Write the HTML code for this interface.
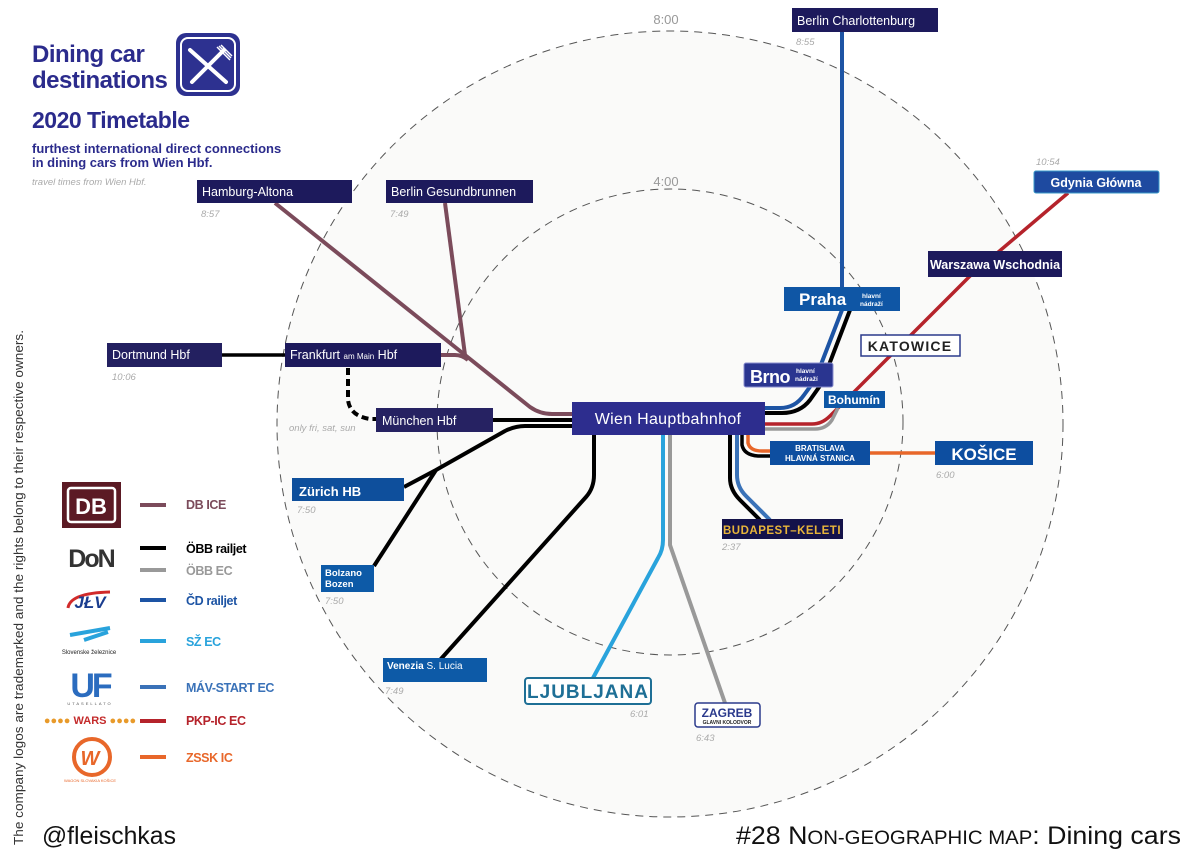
<!DOCTYPE html>
<html><head><meta charset="utf-8"><style>
html,body{margin:0;padding:0;background:#fff;}
svg{display:block;font-family:"Liberation Sans",sans-serif;}
</style></head><body>
<svg width="1200" height="865" viewBox="0 0 1200 865" xmlns="http://www.w3.org/2000/svg">
<rect width="1200" height="865" fill="#fff"/>
<!-- circles -->
<circle cx="670" cy="424" r="393" fill="#fafaf9" stroke="#555" stroke-width="1" stroke-dasharray="8,6"/>
<circle cx="670" cy="422" r="233" fill="none" stroke="#555" stroke-width="1" stroke-dasharray="8,6"/>
<text x="666" y="24" font-size="13" fill="#999" text-anchor="middle">8:00</text>
<text x="666" y="186" font-size="13" fill="#999" text-anchor="middle">4:00</text>

<!-- title -->
<g fill="#2b2b8c" font-weight="bold">
<text x="32" y="62" font-size="24" letter-spacing="-0.5">Dining car</text>
<text x="32" y="88" font-size="24" letter-spacing="-0.5">destinations</text>
<text x="32" y="128" font-size="23" letter-spacing="-0.5">2020 Timetable</text>
<text x="32" y="153" font-size="13">furthest international direct connections</text>
<text x="32" y="167" font-size="13">in dining cars from Wien Hbf.</text>
</g>
<text x="32" y="185" font-size="9.5" font-style="italic" fill="#aaa">travel times from Wien Hbf.</text>
<rect x="176" y="33" width="64" height="63" rx="10" fill="#2d3190"/>
<rect x="181" y="38" width="54" height="53" rx="7" fill="none" stroke="#fff" stroke-width="2"/>
<line x1="190" y1="50" x2="226" y2="82" stroke="#fff" stroke-width="4" stroke-linecap="round"/>
<line x1="224" y1="50" x2="192" y2="82" stroke="#fff" stroke-width="4" stroke-linecap="round"/>
<path d="M217 47 L230 60 M221 45 L232 56 M219 46 L231 58" stroke="#fff" stroke-width="1.5"/>

<!-- lines -->
<g fill="none" stroke-linejoin="round" stroke-linecap="butt">
<path d="M275 203 L465 355 L530 407 Q540 414 552 414 L572 414" stroke="#7b4b5b" stroke-width="4"/>
<path d="M445 203 L465 355" stroke="#7b4b5b" stroke-width="4"/>
<path d="M441 355 L455 355 Q462 355 468 360" stroke="#7b4b5b" stroke-width="4"/>
<path d="M222 355 L285 355" stroke="#000" stroke-width="3.5"/>
<path d="M348 368 L348 400 Q350 416 370 419 L376 419" stroke="#000" stroke-width="4" stroke-dasharray="7,4"/>
<path d="M493 420 L572 420" stroke="#000" stroke-width="4"/>
<path d="M572 426 L525 426 Q515 426 505 431 L436 470 L404 487" stroke="#000" stroke-width="4"/>
<path d="M436 470 L374 566" stroke="#000" stroke-width="4"/>
<path d="M594 435 L594 475 Q594 488 586 497 L440 660" stroke="#000" stroke-width="4"/>
<path d="M663 435 L663 540 Q663 550 658 558 L593 678" stroke="#29a3dc" stroke-width="4"/>
<path d="M670 435 L670 545 L725 703" stroke="#999" stroke-width="4"/>
<path d="M730 435 L730 478 Q730 490 740 500 L760 520" stroke="#000" stroke-width="4"/>
<path d="M737 435 L737 475 Q737 487 746 496 L770 520" stroke="#3a72b8" stroke-width="4"/>
<path d="M742 435 L742 445 Q744 455 758 456 L770 456" stroke="#000" stroke-width="3.5"/>
<path d="M748 435 L748 443 Q750 451 762 451 L770 451" stroke="#e8672a" stroke-width="3.5"/>
<path d="M870 453 L936 453" stroke="#e8672a" stroke-width="3.5"/>
<path d="M765 413 L782 413 Q800 413 810 400 L822 383 L850 310" stroke="#000" stroke-width="4"/>
<path d="M765 408 L780 408 Q795 408 804 395 L815 380 L842 310 L842 32" stroke="#1d54a4" stroke-width="4"/>
<path d="M765 424 L812 424 Q822 424 830 416 L970 276 L1068 193" stroke="#b5232b" stroke-width="3.5"/>
<path d="M765 429 L815 429 Q826 429 832 420 L838 408" stroke="#999" stroke-width="3.5"/>
</g>

<!-- boxes -->
<g font-size="12.5" fill="#fff">
<rect x="792" y="8" width="146" height="24" fill="#1d1a5c"/><text x="797" y="25">Berlin Charlottenburg</text>
<rect x="197" y="180" width="155" height="23" fill="#1d1a5c"/><text x="202" y="196">Hamburg-Altona</text>
<rect x="386" y="180" width="147" height="23" fill="#1d1a5c"/><text x="391" y="196">Berlin Gesundbrunnen</text>
<rect x="107" y="343" width="115" height="24" fill="#232060"/><text x="112" y="359">Dortmund Hbf</text>
<rect x="285" y="343" width="156" height="24" fill="#1d1a5c"/><text x="290" y="359">Frankfurt <tspan font-size="8">am Main</tspan> Hbf</text>
<rect x="376" y="408" width="117" height="24" fill="#262262"/><text x="382" y="425">München Hbf</text>
<rect x="292" y="478" width="112" height="23" fill="#0e4f9c"/><text x="299" y="496" font-weight="bold" font-size="13">Zürich HB</text>
<rect x="321" y="565" width="53" height="27" fill="#0d5aa7"/><text x="325" y="576" font-weight="bold" font-size="9.5">Bolzano</text><text x="325" y="587" font-weight="bold" font-size="9.5">Bozen</text>
<rect x="383" y="658" width="104" height="24" fill="#0d5aa7"/><text x="387" y="669" font-size="10"><tspan font-weight="bold">Venezia</tspan> S. Lucia</text>
<rect x="525" y="678" width="126" height="26" rx="3" fill="#fff" stroke="#1e6f96" stroke-width="2"/><text x="588" y="698" font-size="19" font-weight="bold" fill="#1e6f96" text-anchor="middle" letter-spacing="1">LJUBLJANA</text>
<rect x="695" y="703" width="65" height="24" rx="3" fill="#fff" stroke="#2b3a8c" stroke-width="1.5"/><text x="727" y="717" font-size="12" font-weight="bold" fill="#2b3a8c" text-anchor="middle">ZAGREB</text><text x="727" y="724" font-size="5" font-weight="bold" fill="#222" text-anchor="middle">GLAVNI KOLODVOR</text>
<rect x="722" y="519" width="121" height="20" fill="#14124a"/><text x="782" y="534" font-size="11.5" font-weight="bold" fill="#e8b53a" text-anchor="middle" letter-spacing="0.5">BUDAPEST–KELETI</text>
<rect x="770" y="441" width="100" height="24" fill="#0d4ea0"/><text x="820" y="451" font-size="8" font-weight="bold" text-anchor="middle">BRATISLAVA</text><text x="820" y="461" font-size="8" font-weight="bold" text-anchor="middle">HLAVNÁ STANICA</text>
<rect x="935" y="441" width="98" height="24" fill="#0d4ea0"/><text x="984" y="460" font-size="17" font-weight="bold" text-anchor="middle">KOŠICE</text>
<rect x="824" y="391" width="61" height="17" fill="#0d56a5"/><text x="854" y="404" font-size="12" font-weight="bold" text-anchor="middle">Bohumín</text>
<rect x="744" y="363" width="89" height="24" rx="2" fill="#2a3590" stroke="#8a8fd0" stroke-width="1"/><text x="750" y="383" font-size="18" font-weight="bold" letter-spacing="-0.5">Brno</text><text x="796" y="373" font-size="6.5" font-weight="bold">hlavní</text><text x="795" y="381" font-size="6.5" font-weight="bold">nádraží</text>
<rect x="784" y="287" width="116" height="24" fill="#0f56a5"/><text x="799" y="305" font-size="17" font-weight="bold">Praha</text><text x="862" y="298" font-size="6.5" font-weight="bold">hlavní</text><text x="860" y="306" font-size="6.5" font-weight="bold">nádraží</text>
<rect x="861" y="335" width="99" height="21" fill="#fff" stroke="#2b3a8c" stroke-width="1.5"/><text x="910" y="351" font-size="14" font-weight="bold" fill="#222" text-anchor="middle" letter-spacing="1.2">KATOWICE</text>
<rect x="928" y="251" width="134" height="26" fill="#1d1a5c"/><text x="995" y="269" font-size="12.5" font-weight="bold" text-anchor="middle">Warszawa Wschodnia</text>
<rect x="1034" y="171" width="125" height="22" rx="2" fill="#1e4aa0" stroke="#3a9ac8" stroke-width="1"/><text x="1096" y="187" font-size="12.5" font-weight="bold" text-anchor="middle">Gdynia Główna</text>
<rect x="572" y="402" width="193" height="33" fill="#2d2d8e"/><text x="668" y="424" font-size="16" text-anchor="middle" letter-spacing="0.3">Wien Hauptbahnhof</text>
</g>

<g font-size="9.5" font-style="italic" fill="#aaa">
<text x="796" y="45">8:55</text>
<text x="201" y="217">8:57</text>
<text x="390" y="217">7:49</text>
<text x="112" y="380">10:06</text>
<text x="289" y="431">only fri, sat, sun</text>
<text x="297" y="513">7:50</text>
<text x="325" y="604">7:50</text>
<text x="385" y="694">7:49</text>
<text x="630" y="717">6:01</text>
<text x="696" y="741">6:43</text>
<text x="722" y="550">2:37</text>
<text x="936" y="478">6:00</text>
<text x="1036" y="165">10:54</text>
</g>

<!-- legend -->
<rect x="62" y="482" width="59" height="46" fill="#5b1a24"/>
<rect x="68" y="488" width="47" height="34" rx="3" fill="none" stroke="#fff" stroke-width="2.5"/>
<text x="91" y="514" font-size="22" font-weight="bold" fill="#fff" text-anchor="middle">DB</text>
<text x="91" y="567" font-size="25" font-weight="bold" fill="#333" text-anchor="middle" letter-spacing="-2">DoN</text>
<path d="M68 608 Q70 593 110 592" stroke="#d12a2a" stroke-width="3" fill="none"/>
<text x="90" y="608" font-size="17" font-weight="bold" font-style="italic" fill="#1a3d8f" text-anchor="middle">JŁV</text>
<path d="M70 635 L110 628 M84 640 L108 632" stroke="#29a3dc" stroke-width="4"/>
<text x="89" y="654" font-size="6" fill="#222" text-anchor="middle">Slovenske železnice</text>
<text x="90" y="697" font-size="34" font-weight="bold" fill="#2b6cbf" text-anchor="middle" letter-spacing="-3">UF</text>
<text x="90" y="705" font-size="4" fill="#555" text-anchor="middle" letter-spacing="2">UTASELLATO</text>
<text x="90" y="724" font-size="11" fill="#e89a2a" text-anchor="middle">●●●● <tspan fill="#c42b2b" font-weight="bold">WARS</tspan> ●●●●</text>
<circle cx="92" cy="757" r="18" fill="none" stroke="#e8672a" stroke-width="4"/>
<text x="90" y="765" font-size="20" font-weight="bold" font-style="italic" fill="#e8672a" text-anchor="middle">W</text>
<text x="90" y="782" font-size="4" fill="#e8672a" text-anchor="middle">WAGON SLOVAKIA KOŠICE</text>
<g stroke-width="4">
<line x1="140" y1="505" x2="166" y2="505" stroke="#7b4b5b"/>
<line x1="140" y1="548" x2="166" y2="548" stroke="#000"/>
<line x1="140" y1="570" x2="166" y2="570" stroke="#999"/>
<line x1="140" y1="600" x2="166" y2="600" stroke="#1d54a4"/>
<line x1="140" y1="641" x2="166" y2="641" stroke="#29a3dc"/>
<line x1="140" y1="687" x2="166" y2="687" stroke="#3a72b8"/>
<line x1="140" y1="721" x2="166" y2="721" stroke="#b5232b"/>
<line x1="140" y1="757" x2="166" y2="757" stroke="#e8672a"/>
</g>
<g font-size="12.5" font-weight="bold" letter-spacing="-0.4">
<text x="186" y="509" fill="#7b4b5b">DB ICE</text>
<text x="186" y="553" fill="#000">ÖBB railjet</text>
<text x="186" y="575" fill="#999">ÖBB EC</text>
<text x="186" y="605" fill="#1d54a4">ČD railjet</text>
<text x="186" y="646" fill="#29a3dc">SŽ EC</text>
<text x="186" y="692" fill="#3a72b8">MÁV-START EC</text>
<text x="186" y="725" fill="#b5232b">PKP-IC EC</text>
<text x="186" y="762" fill="#e8672a">ZSSK IC</text>
</g>

<text transform="translate(23,845) rotate(-90)" font-size="12.5" fill="#333" textLength="515" lengthAdjust="spacingAndGlyphs">The company logos are trademarked and the rights belong to their respective owners.</text>
<text x="42" y="844" font-size="25" fill="#111" textLength="134" lengthAdjust="spacingAndGlyphs">@fleischkas</text>
<text x="736" y="844" font-size="25" fill="#111" textLength="445" lengthAdjust="spacingAndGlyphs">#28 N<tspan font-size="19">ON-GEOGRAPHIC MAP</tspan>: Dining cars</text>
</svg>
</body></html>
